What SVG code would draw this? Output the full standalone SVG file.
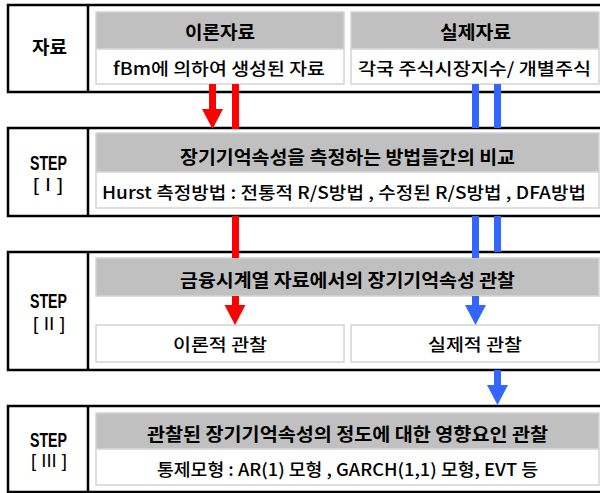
<svg xmlns="http://www.w3.org/2000/svg" width="600" height="493" viewBox="0 0 600 493">
<style>
.outer{fill:#fff;stroke:#000;stroke-width:2.5}
.div{stroke:#000;stroke-width:2.5}
.hd{fill:#c0c0c0;stroke:#d4d4d4;stroke-width:1.5}
.row{fill:#fff;stroke:#d4d4d4;stroke-width:1.5}
.h{font-family:"Noto Sans CJK KR","Noto Sans",sans-serif;font-weight:bold;font-size:18px;fill:#000;text-anchor:middle}
.t{font-family:"Noto Sans CJK KR","Noto Sans",sans-serif;font-weight:500;font-size:17px;fill:#000;text-anchor:middle}
.s{font-family:"Liberation Sans","Noto Sans CJK KR",sans-serif;font-weight:bold;font-size:21px;fill:#000;text-anchor:middle}
.b{font-family:"Liberation Sans","Noto Sans CJK KR",sans-serif;font-size:19px;fill:#000;text-anchor:middle}
.red{fill:#ff0000}
.blue{fill:#3366ff}
</style>

<g id="sec1">
<rect class="outer" x="8" y="5" width="594" height="87"/>
<line class="div" x1="88" y1="5" x2="88" y2="92"/>
<text class="h" x="49.5" y="54" textLength="35" lengthAdjust="spacingAndGlyphs">자료</text>
</g>
<g id="theory-data">
<rect class="hd" x="96" y="12" width="248" height="37"/>
<rect class="row" x="96" y="49" width="248" height="35"/>
<text class="h" x="220" y="39" textLength="70" lengthAdjust="spacingAndGlyphs">이론자료</text>
<text class="t" x="219" y="75" textLength="212" lengthAdjust="spacingAndGlyphs">fBm에 의하여 생성된 자료</text>
</g>
<g id="real-data">
<rect class="hd" x="351" y="12" width="248" height="37"/>
<rect class="row" x="351" y="49" width="248" height="35"/>
<text class="h" x="475.5" y="39" textLength="71" lengthAdjust="spacingAndGlyphs">실제자료</text>
<text class="t" x="474.5" y="75" textLength="233" lengthAdjust="spacingAndGlyphs">각국 주식시장지수/ 개별주식</text>
</g>

<g id="step1">
<rect class="outer" x="8" y="128" width="594" height="88"/>
<line class="div" x1="88" y1="128" x2="88" y2="216"/>
<text class="s" x="48.5" y="170" textLength="37" lengthAdjust="spacingAndGlyphs">STEP</text>
<text class="b" x="48" y="191" textLength="30" lengthAdjust="spacingAndGlyphs">[ I ]</text>
<rect class="hd" x="96" y="133" width="503" height="39"/>
<rect class="row" x="96" y="172" width="503" height="36"/>
<text class="h" x="347.5" y="164" textLength="335" lengthAdjust="spacingAndGlyphs">장기기억속성을 측정하는 방법들간의 비교</text>
<text class="t" x="344" y="199" textLength="484" lengthAdjust="spacingAndGlyphs">Hurst 측정방법 : 전통적 R/S방법 , 수정된 R/S방법 , DFA방법</text>
</g>

<g id="step2">
<rect class="outer" x="8" y="252" width="594" height="118"/>
<line class="div" x1="88" y1="252" x2="88" y2="370"/>
<text class="s" x="48.5" y="308" textLength="37" lengthAdjust="spacingAndGlyphs">STEP</text>
<text class="b" x="49" y="330" textLength="32" lengthAdjust="spacingAndGlyphs">[ II ]</text>
<rect class="hd" x="96" y="258" width="503" height="38"/>
<text class="h" x="347.5" y="287" textLength="335" lengthAdjust="spacingAndGlyphs">금융시계열 자료에서의 장기기억속성 관찰</text>
</g>
<g id="theory-obs">
<rect class="row" x="96" y="325" width="248" height="37"/>
<text class="t" x="220" y="351" textLength="94" lengthAdjust="spacingAndGlyphs">이론적 관찰</text>
</g>
<g id="real-obs">
<rect class="row" x="351" y="325" width="248" height="37"/>
<text class="t" x="475" y="351" textLength="94" lengthAdjust="spacingAndGlyphs">실제적 관찰</text>
</g>

<g id="step3">
<rect class="outer" x="8" y="406" width="594" height="86"/>
<line class="div" x1="88" y1="406" x2="88" y2="492"/>
<text class="s" x="48.5" y="447" textLength="37" lengthAdjust="spacingAndGlyphs">STEP</text>
<text class="b" x="49" y="467" textLength="36" lengthAdjust="spacingAndGlyphs">[ III ]</text>
<rect class="hd" x="96" y="413" width="503" height="36"/>
<rect class="row" x="96" y="449" width="503" height="36"/>
<text class="h" x="347.5" y="441" textLength="401" lengthAdjust="spacingAndGlyphs">관찰된 장기기억속성의 정도에 대한 영향요인 관찰</text>
<text class="t" x="347.5" y="476" textLength="381" lengthAdjust="spacingAndGlyphs">통제모형 : AR(1) 모형 , GARCH(1,1) 모형, EVT 등</text>
</g>

<g id="connectors">
<rect class="red" x="209" y="84" width="7" height="26"/>
<polygon class="red" points="202,109 223,109 212.5,129"/>
<rect class="red" x="232" y="84" width="7" height="45"/>
<rect class="red" x="232" y="216" width="7" height="42"/>
<rect class="red" x="232" y="296" width="7" height="10"/>
<polygon class="red" points="224.5,305 245.5,305 235,325"/>

<rect class="blue" x="472" y="84" width="7" height="44"/>
<rect class="blue" x="494" y="84" width="7" height="44"/>
<rect class="blue" x="472" y="216" width="7" height="42"/>
<rect class="blue" x="494" y="216" width="7" height="36"/>
<rect class="blue" x="472" y="296" width="7" height="10"/>
<polygon class="blue" points="465,305 486,305 475.5,325"/>
<rect class="blue" x="494" y="370" width="7" height="16"/>
<polygon class="blue" points="487,385 508,385 497.5,405"/>
</g>
</svg>
